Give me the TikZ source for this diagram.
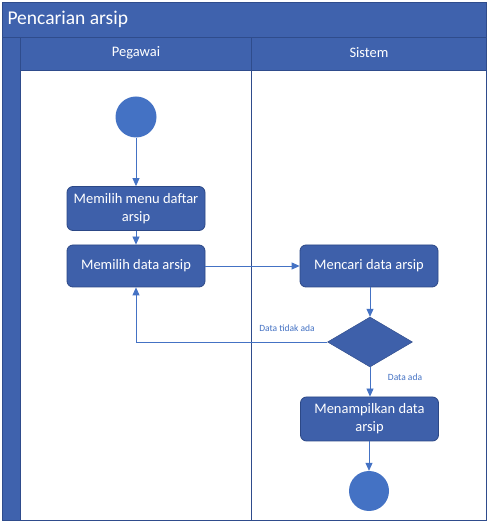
\documentclass[tikz,border=0pt]{standalone}
\usepackage{fontspec}
\setmainfont{Carlito}
\usetikzlibrary{positioning,arrows.meta,shapes.geometric}
\definecolor{lanefill}{RGB}{63,98,173}
\definecolor{lanedraw}{RGB}{47,76,140}
\definecolor{actfill}{RGB}{62,96,170}
\definecolor{actdraw}{RGB}{44,72,134}
\definecolor{flowblue}{RGB}{68,114,196}

\begin{document}
\begin{tikzpicture}[x=1pt,y=1pt,
    act/.style={draw=actdraw,fill=actfill,text=white,rounded corners=6pt,line width=.8pt,minimum width=138pt,minimum height=44pt,align=center,inner sep=2pt,font=\fontsize{14.5}{18}\selectfont},
    decision/.style={diamond,draw=actdraw,fill=actfill,minimum width=85pt,minimum height=50pt,inner sep=0pt},
    terminal/.style={circle,fill=flowblue,minimum size=41pt,inner sep=0pt},
    flow/.style={-{Triangle[length=8pt,width=7pt]},draw=flowblue,line width=.8pt},
    guard/.style={text=flowblue,font=\fontsize{9.5}{11}\selectfont}]
    \useasboundingbox (0,0) rectangle (488,522);
    % swimlane frame
    \fill[white] (2,2) rectangle (486,520);
    \fill[lanefill] (2,485) rectangle (486,520);
    \fill[lanefill] (2,2) rectangle (20,485);
    \fill[lanefill] (20,452) rectangle (486,485);
    \draw[lanedraw,line width=.8pt] (2,2) rectangle (486,520);
    \draw[lanedraw,line width=.8pt] (2,485) -- (486,485);
    \draw[lanedraw,line width=.8pt] (20,2) -- (20,485);
    \draw[lanedraw,line width=.8pt] (20,452) -- (486,452);
    \draw[lanedraw,line width=.8pt] (251,2) -- (251,485);
    \node[anchor=west,text=white,font=\fontsize{19.5}{22}\selectfont] (title) at (4,503) {Pencarian arsip};
    \node[text=white,font=\fontsize{14.5}{16}\selectfont] (pegawai) at (136,469) {Pegawai};
    \node[text=white,font=\fontsize{14.5}{16}\selectfont] (sistem) at (369,469) {Sistem};
    % activities
    \node[terminal] (start) at (136,405) {};
    \node[act] (menu) at (136,313.5) {Memilih menu daftar\\arsip};
    \node[act,minimum height=42pt] (pilih) at (136,256) {Memilih data arsip};
    \node[act,minimum height=42pt] (cari) at (369,256) {Mencari data arsip};
    \node[decision] (cek) at (370,180) {};
    \node[act] (tampil) at (369.5,103) {Menampilkan data\\arsip};
    \node[terminal,minimum size=40pt] (stop) at (369,31) {};
    \coordinate (balik) at (136,180);
    % flows
    \draw[flow] (start) -- (menu);
    \draw[flow] (menu) -- (pilih);
    \draw[flow] (pilih) -- (cari);
    \draw[flow] (cari.south -| cek.north) -- (cek);
    \draw[flow] (cek.west) -- (balik) -- (pilih);
    \draw[flow] (cek) -- (cek |- tampil.north);
    \draw[flow] (tampil.south -| stop.north) -- (stop);
    \node[guard] (tidakada) at (287,194) {Data tidak ada};
    \node[guard] (ada) at (405,145) {Data ada};
  \end{tikzpicture}
\end{document}
